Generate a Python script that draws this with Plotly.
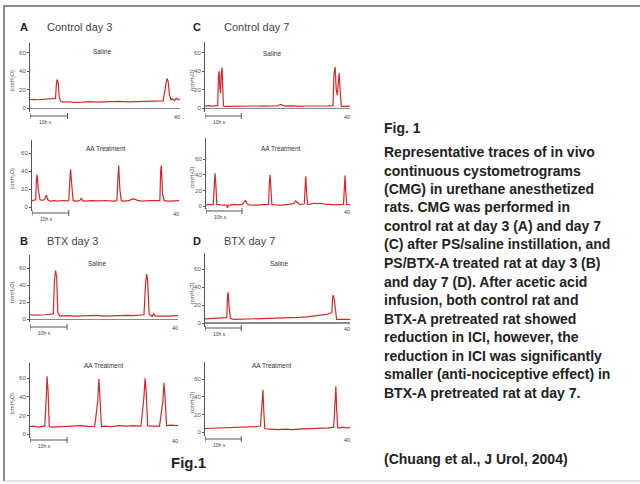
import plotly.graph_objects as go

W, H = 640, 484

# ---------------- data (time in min, pressure in cmH2O) ----------------
A_sal_x = [0, 1, 2, 3, 4, 5, 6, 6.8, 7.0, 7.2, 7.5, 7.8, 8.2, 9, 10, 12, 14, 16, 18, 20, 22, 24, 26, 28, 30, 32, 34, 35.5, 36.2, 36.5, 36.8, 37.2, 37.6, 38, 38.5, 39, 39.5, 40]
A_sal_y = [9, 9.5, 9, 9.3, 9.8, 9.5, 10, 10.5, 24, 31, 28, 12, 7, 6.5, 6.8, 6.2, 6.5, 7, 6.3, 6.8, 6.5, 7.2, 6.6, 7, 6.8, 7.1, 7.4, 7.8, 25, 32, 30, 14, 9, 10, 8, 10.5, 9, 10]

A_aa_x = [0, 0.5, 1.0, 1.2, 1.4, 1.7, 2.2, 3.0, 3.5, 3.9, 4.3, 5, 6, 7, 8, 9, 10.0, 10.3, 10.5, 10.8, 11.2, 12, 13.0, 13.4, 13.8, 14.5, 16, 18, 20, 22, 23.1, 23.4, 23.6, 23.9, 24.3, 25, 26.5, 27.2, 28, 29, 30, 32, 34, 34.8, 35.0, 35.2, 35.5, 36, 37, 38, 39, 40]
A_aa_y = [7, 7.5, 8, 30, 36, 20, 8, 7.5, 9, 13, 8, 6.5, 7, 6.5, 7.2, 6.8, 7, 30, 42, 25, 7, 6.5, 7, 10, 7, 6.5, 7, 6.8, 7.2, 6.5, 7, 35, 46, 20, 7, 6.5, 7, 9, 8.5, 7, 6.5, 7.2, 6.8, 7, 40, 46, 15, 7, 6.5, 7, 6.8, 7]

B_sal_x = [0, 2, 4, 5.5, 6.3, 6.6, 6.9, 7.2, 7.5, 8, 10, 12, 14, 16, 18, 20, 22, 24, 26, 28, 30, 30.8, 31.2, 31.5, 31.8, 32.2, 33, 33.4, 33.8, 35, 37, 40]
B_sal_y = [5, 4.5, 5, 5.5, 6, 45, 57, 50, 8, 3.5, 4, 3.5, 4, 3.8, 4.2, 3.5, 4, 3.8, 4.2, 4, 4.5, 5, 40, 53, 45, 6, 3, 6, 3.5, 3.8, 3.5, 4]

B_aa_x = [0, 1, 2, 3, 4, 4.4, 4.6, 4.9, 5.2, 6, 8, 10, 12, 14, 16, 17.5, 18.3, 18.6, 18.9, 19.3, 20, 22, 24, 26, 28, 30, 30.8, 31.1, 31.4, 31.8, 33, 35, 35.9, 36.2, 36.5, 36.9, 38, 40]
B_aa_y = [8, 8.5, 7.5, 8, 8.5, 40, 62, 45, 8, 7.5, 8, 8.5, 8.2, 9, 8, 8.5, 35, 59, 40, 8, 8.5, 8, 9, 8.5, 9, 8.5, 40, 60, 45, 9, 8.5, 8.5, 35, 55, 40, 9, 9.5, 9]

C_sal_x = [0, 1, 2, 3, 3.5, 3.7, 3.9, 4.1, 4.3, 4.5, 4.7, 4.9, 5.1, 6, 8, 10, 12, 14, 16, 18, 20, 20.6, 21, 21.4, 22, 24, 26, 28, 30, 32, 34, 35.3, 35.6, 35.9, 36.2, 36.5, 36.8, 37.0, 37.3, 37.6, 38, 39, 40]
C_sal_y = [2, 2.5, 2, 2.3, 2.5, 35, 40, 22, 16, 38, 44, 22, 2, 1.8, 2, 2.3, 1.8, 2.2, 2, 2.5, 2.2, 3.5, 4, 3, 2, 2.3, 1.8, 2.2, 2, 2.5, 2.3, 2.5, 38, 45, 20, 14, 30, 38, 18, 2, 1.8, 2.2, 2]

C_aa_x = [0, 1, 2, 2.3, 2.5, 2.7, 3.0, 4, 5, 5.8, 6.0, 6.2, 7, 8, 9, 10, 10.6, 11.0, 11.4, 12, 14, 16, 17.4, 17.6, 17.8, 18.0, 18.3, 19, 21, 23, 24.4, 24.9, 25.4, 26, 27.3, 27.5, 27.7, 27.9, 28.2, 29, 30, 31, 32, 33, 34, 36, 38.2, 38.4, 38.6, 38.8, 39.1, 40]
C_aa_y = [1.5, 2, 1.5, 25, 42, 30, 2, 1.5, 1.5, 1, -2.5, 1, 1.5, 2, 1.5, 2, 5, 7.5, 3, 1.5, 1, 1.5, 2, 30, 40, 25, 2, 1.5, 1, 2, 3, 6.5, 4, 2, 2.5, 25, 38, 20, 2, 2.5, 3.5, 3, 3.5, 2.5, 2, 1.5, 2, 30, 39, 20, 2, 1.5]

D_sal_x = [0, 2, 4, 5.5, 6.0, 6.2, 6.4, 6.6, 7.0, 8, 10, 12, 14, 16, 18, 20, 22, 24, 26, 28, 30, 32, 33.5, 34.5, 35.0, 35.2, 35.4, 35.7, 36.0, 36.3, 37, 38, 40]
D_sal_y = [4.5, 4.8, 5, 5.5, 6, 30, 34, 20, 5, 4, 4.2, 4, 4.3, 4.5, 4.6, 5, 5.3, 5.8, 6.2, 6.8, 7.5, 8.5, 9.5, 10.5, 12, 28, 31, 25, 15, 4, 4, 4.2, 4]

D_aa_x = [0, 2, 4, 6, 8, 10, 12, 14, 15.3, 15.7, 16.0, 16.2, 16.5, 17, 18, 20, 22, 24, 26, 28, 30, 32, 34, 35.5, 35.8, 36.1, 36.3, 36.6, 37, 38, 39, 40]
D_aa_y = [4, 4.2, 4.5, 4.8, 5, 5.3, 5.8, 6.2, 6.8, 30, 48, 25, 4, 3.5, 3, 2.8, 3.2, 2.8, 3.3, 3.5, 3.8, 4.2, 4.8, 5.5, 30, 52, 28, 5, 4.5, 5.5, 4.8, 5]

y_ticks = [0, 20, 40, 60]
x_end_label = "40"
scale_label = "10h s"
y_title = "(cmH<sub>2</sub>O)"

panel_titles = [("A", "Control day 3"), ("C", "Control day 7"), ("B", "BTX day 3"), ("D", "BTX day 7")]
sub_titles = ["Saline", "AA Treatment"]

caption_head = "Fig. 1"
caption_lines = [
    "Representative traces of in vivo",
    "continuous cystometrograms",
    "(CMG) in urethane anesthetized",
    "rats. CMG was performed in",
    "control rat at day 3 (A) and day 7",
    "(C) after PS/saline instillation, and",
    "PS/BTX-A treated rat at day 3 (B)",
    "and day 7 (D). After acetic acid",
    "infusion, both control rat and",
    "BTX-A pretreated rat showed",
    "reduction in ICI, however, the",
    "reduction in ICI was significantly",
    "smaller (anti-nociceptive effect) in",
    "BTX-A pretreated rat at day 7.",
]
citation = "(Chuang et al., J Urol, 2004)"
fig_label = "Fig.1"

# ---------------- layout geometry (pixels) ----------------
def px(x):
    return x / W

def py(y):
    return 1 - y / H

panels = [
    dict(x=A_sal_x, y=A_sal_y, x0=30, x1=180, y0=108, ppu=0.917, top=43, bar=116, sub=0, sx=102, sy=52, zero=True, yt=12),
    dict(x=A_aa_x, y=A_aa_y, x0=32, x1=179, y0=207, ppu=0.90, top=140, bar=213, sub=1, sx=106, sy=148, zero=False, yt=12),
    dict(x=B_sal_x, y=B_sal_y, x0=30, x1=178, y0=319, ppu=0.85, top=255, bar=327, sub=0, sx=97, sy=263, zero=True, yt=12),
    dict(x=B_aa_x, y=B_aa_y, x0=30, x1=178, y0=434, ppu=0.93, top=363, bar=440, sub=1, sx=104, sy=365, zero=False, yt=12),
    dict(x=C_sal_x, y=C_sal_y, x0=205, x1=350, y0=108, ppu=0.917, top=42, bar=116, sub=0, sx=272, sy=53, zero=True, yt=192),
    dict(x=C_aa_x, y=C_aa_y, x0=206, x1=350, y0=206, ppu=0.78, top=138, bar=211, sub=1, sx=281, sy=148, zero=False, yt=192),
    dict(x=D_sal_x, y=D_sal_y, x0=205, x1=350, y0=323, ppu=0.90, top=253, bar=328, sub=0, sx=279, sy=263, zero=True, yt=192),
    dict(x=D_aa_x, y=D_aa_y, x0=205, x1=350, y0=432, ppu=0.88, top=362, bar=439, sub=1, sx=272, sy=365, zero=False, yt=192),
]

FONT = "Liberation Sans, Arial, sans-serif"
RED = "#d62828"
AXC = "#555555"

fig = go.Figure()
layout = dict(width=W, height=H, margin=dict(l=0, r=0, t=0, b=0),
              paper_bgcolor="white", plot_bgcolor="white", showlegend=False,
              font=dict(family=FONT))
shapes = []
annots = []

for i, p in enumerate(panels, start=1):
    xa = "x" if i == 1 else f"x{i}"
    ya = "y" if i == 1 else f"y{i}"
    ymin = -4
    ymax = (p["y0"] - p["top"]) / p["ppu"]
    layout["xaxis" if i == 1 else f"xaxis{i}"] = dict(
        domain=[px(p["x0"]), px(p["x1"])], range=[0, 40], visible=False,
        anchor=ya, fixedrange=True)
    layout["yaxis" if i == 1 else f"yaxis{i}"] = dict(
        domain=[py(p["y0"] - ymin * p["ppu"]), py(p["top"])], range=[ymin, ymax],
        anchor=xa, showline=True, linecolor=AXC, linewidth=1, showgrid=False,
        tickvals=y_ticks, ticks="outside", ticklen=2, tickcolor=AXC,
        tickfont=dict(size=6, color="#555"), zeroline=p["zero"],
        zerolinecolor="#8a8a8a", zerolinewidth=2 if i == 7 else 1, fixedrange=True)
    fig.add_trace(go.Scatter(x=p["x"], y=p["y"], mode="lines", xaxis=xa, yaxis=ya,
                             line=dict(color=RED, width=1.2), hoverinfo="skip"))
    # scale bar
    xr = xa
    yb = py(p["bar"])
    shapes.append(dict(type="line", xref=xr, yref="paper", x0=0, x1=10, y0=yb, y1=yb,
                       line=dict(color=AXC, width=1)))
    for xv in (0, 10):
        shapes.append(dict(type="line", xref=xr, yref="paper", x0=xv, x1=xv,
                           y0=py(p["bar"] - 3), y1=py(p["bar"] + 3),
                           line=dict(color=AXC, width=1)))
    annots.append(dict(xref=xr, yref="paper", x=4, y=py(p["bar"] + 6), text=scale_label,
                       showarrow=False, font=dict(size=5, color="#444"), xanchor="center", yanchor="middle"))
    annots.append(dict(xref=xr, yref="paper", x=39.3, y=py(p["bar"] + 0.5), text=x_end_label,
                       showarrow=False, font=dict(size=5.5, color="#444"), xanchor="center", yanchor="middle"))
    annots.append(dict(xref="paper", yref="paper", x=px(p["sx"]), y=py(p["sy"]),
                       text=sub_titles[p["sub"]], showarrow=False,
                       font=dict(size=6.5, color="#333"), xanchor="center", yanchor="middle"))
    annots.append(dict(xref="paper", yref="paper", x=px(p["yt"]), y=py((p["top"] + p["y0"]) / 2 + 5),
                       text=y_title, textangle=-90, showarrow=False,
                       font=dict(size=5.5, color="#555"), xanchor="center", yanchor="middle"))

# panel titles
title_pos = [(24, 222, 27), (197, 222, 27), (24, 45, 241), (197, 222, 241)]
title_pos = [(24, 45, 27), (197, 222, 27), (24, 45, 241), (197, 222, 241)]
for (letter, name), (lx, nx, ty) in zip(panel_titles, title_pos):
    annots.append(dict(xref="paper", yref="paper", x=px(lx), y=py(ty), text=f"<b>{letter}</b>",
                       showarrow=False, font=dict(size=11, color="#222"), xanchor="center", yanchor="middle"))
    annots.append(dict(xref="paper", yref="paper", x=px(nx), y=py(ty), text=name,
                       showarrow=False, font=dict(size=11, color="#444"), xanchor="left", yanchor="middle"))

# caption
annots.append(dict(xref="paper", yref="paper", x=px(382), y=py(128), text=f"<b>{caption_head}</b>",
                   showarrow=False, font=dict(size=14, color="#222"), xanchor="left", yanchor="middle"))
for k, line in enumerate(caption_lines):
    annots.append(dict(xref="paper", yref="paper", x=px(382), y=py(152 + k * 18.5), text=f"<b>{line}</b>",
                       showarrow=False, font=dict(size=14, color="#222"), xanchor="left", yanchor="middle"))
annots.append(dict(xref="paper", yref="paper", x=px(382), y=py(459), text=f"<b>{citation}</b>",
                   showarrow=False, font=dict(size=14, color="#222"), xanchor="left", yanchor="middle"))
annots.append(dict(xref="paper", yref="paper", x=px(188), y=py(462), text=f"<b>{fig_label}</b>",
                   showarrow=False, font=dict(size=15, color="#222"), xanchor="center", yanchor="middle"))

# frame
shapes.append(dict(type="line", xref="paper", yref="paper", x0=px(3), x1=1, y0=py(6), y1=py(6),
                   line=dict(color="#8a8a8a", width=2)))
shapes.append(dict(type="line", xref="paper", yref="paper", x0=px(4), x1=px(4), y0=py(6), y1=py(481),
                   line=dict(color="#8a8a8a", width=2)))
shapes.append(dict(type="line", xref="paper", yref="paper", x0=px(4), x1=1, y0=py(481), y1=py(481),
                   line=dict(color="#c8c8c8", width=1)))

layout["shapes"] = shapes
layout["annotations"] = annots
fig.update_layout(**layout)
fig.write_html("out.html")
